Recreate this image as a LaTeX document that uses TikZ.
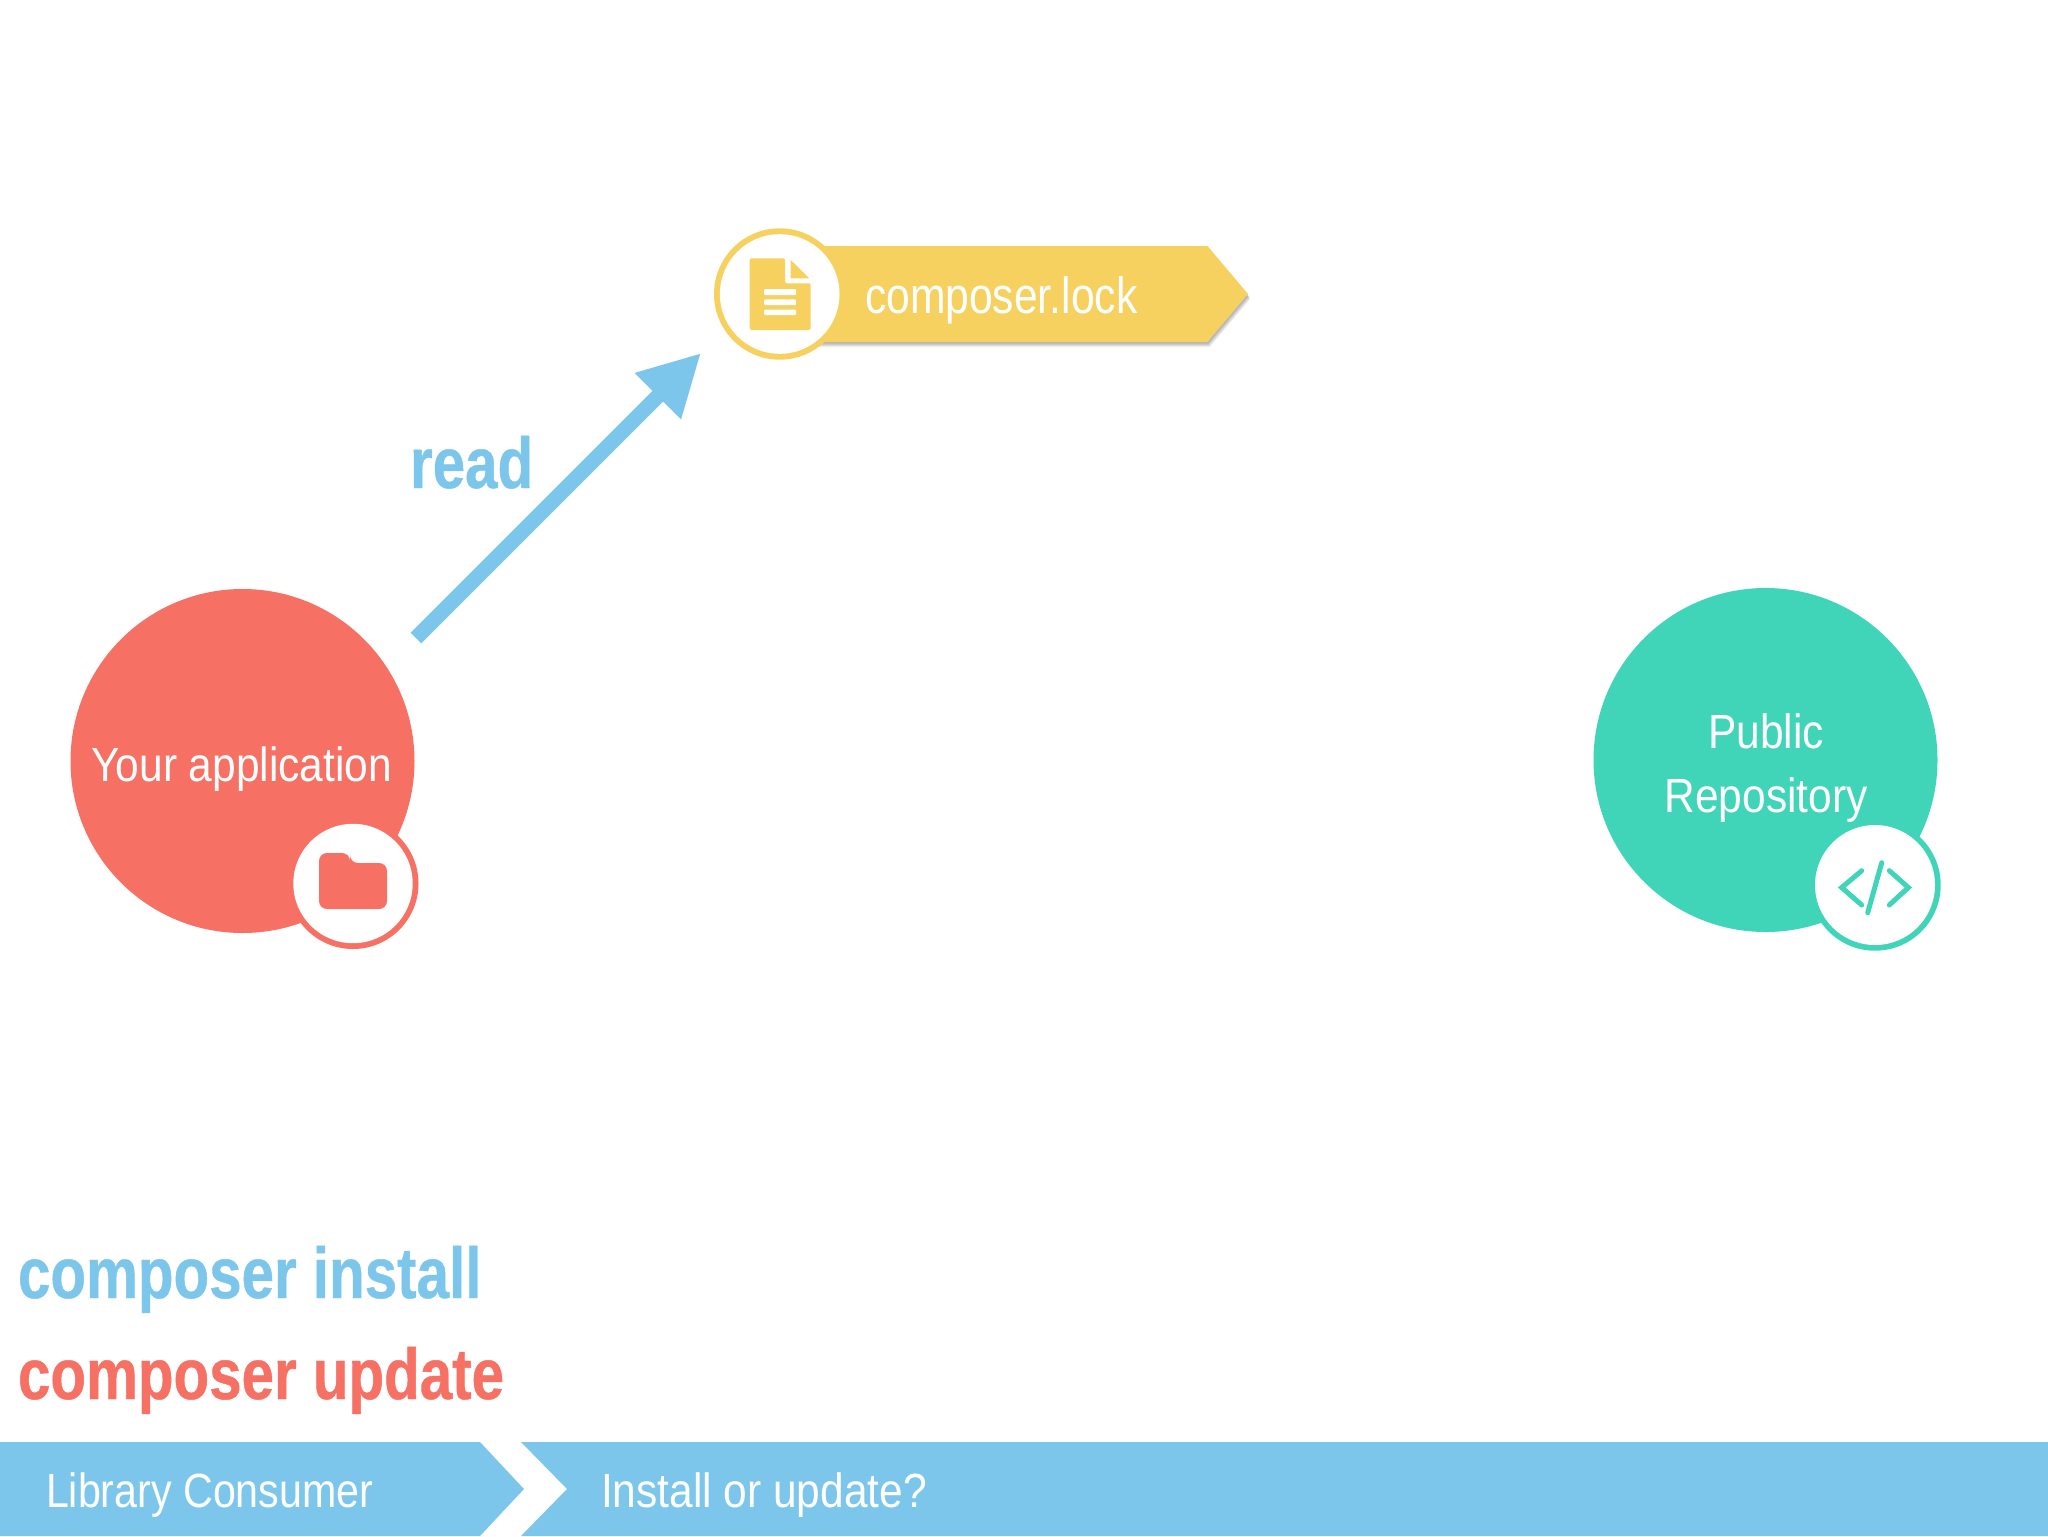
\documentclass[tikz,border=0pt]{standalone}
\usepackage{fontspec}
\usetikzlibrary{arrows.meta}
\setmainfont{Liberation Sans}
\newfontfamily\rcreg{Liberation Sans}[FakeStretch=0.885]
\newfontfamily\rclib{Liberation Sans}[FakeStretch=0.858]
\newfontfamily\rclock{Liberation Sans}[FakeStretch=0.836]
\newfontfamily\rcbold{Liberation Sans}[FakeStretch=0.81,FakeBold=0.6]
\definecolor{cred}{HTML}{F67063}
\definecolor{cblue}{HTML}{7CC6EC}
\definecolor{cyellow}{HTML}{F7D160}
\definecolor{cgreen}{HTML}{40D5B8}
\tikzset{
  disc/.style={circle,inner sep=0pt,outer sep=0pt,minimum size=#1},
  lbl/.style={anchor=base,inner sep=0pt,outer sep=0pt,text=white,font=\rcreg\fontsize{24}{28}\selectfont},
  lblw/.style={lbl,anchor=base west},
  cmd/.style={anchor=base west,inner sep=0pt,outer sep=0pt,font=\rcbold\bfseries\fontsize{36}{42}\selectfont},
  readarrow/.style={draw=cblue,line width=7.5pt,line cap=butt,-{Triangle[length=30.5pt,width=30.5pt,fill=cblue]}},
  codeline/.style={draw=cgreen,line width=2.5pt,line cap=round,line join=miter},
}
\begin{document}
\begin{tikzpicture}[x=0.5pt,y=-0.5pt]
\useasboundingbox (0,0) rectangle (2048,1536);
% bottom bar
\fill[cblue] (0,1442) -- (480,1442) -- (524,1489) -- (480,1536) -- (0,1536) -- cycle;
\fill[cblue] (521,1442) -- (2048,1442) -- (2048,1536) -- (521,1536) -- (567,1489) -- cycle;
\node[lblw,font=\rclib\fontsize{24}{28}\selectfont] (consumer) at (46,1507) {Library Consumer};
\node[lblw] (question) at (601,1507) {Install or update?};
\node[cmd,text=cblue] (install) at (18,1298) {composer install};
\node[cmd,text=cred] (update) at (18,1399) {composer update};
% application
\node[disc=172pt,fill=cred] (app) at (242.5,761) {};
\node[lbl] (apptext) at (241.7,781) {Your application};
\node[disc=65.5pt,fill=cred] (appring) at (353,883.5) {};
\node[disc=59.7pt,fill=white] (appbadge) at (353,883.5) {};
\fill[cred,rounded corners=4pt] (319,909) -- (319,853) -- (350,853) -- (350,863) -- (387,863) -- (387,909) -- cycle;
% public repository
\node[disc=172pt,fill=cgreen] (repo) at (1765.5,760) {};
\node[lbl] (repotexta) at (1766,748) {Public};
\node[lbl] (repotextb) at (1766,812) {Repository};
\node[disc=65.7pt,fill=cgreen] (repring) at (1875,885) {};
\node[disc=60pt,fill=white] (repbadge) at (1875,885) {};
\draw[codeline] (1861.7,870.7) -- (1841.7,887.5) -- (1861.7,905);
\draw[codeline] (1889.3,870.7) -- (1908.3,887.5) -- (1889.3,905);
\draw[codeline] (1881.7,862.7) -- (1867.7,912.7);
% composer.lock band
\foreach \dx/\dy in {2/5,2/4,1/3,1/2,0/1}{
  \fill[black,opacity=0.07,shift={(\dx,\dy)}] (800,246) -- (1207.5,246) -- (1248,294) -- (1207.5,342) -- (800,342) -- cycle;
}
\fill[cyellow] (800,246) -- (1207.5,246) -- (1248,294) -- (1207.5,342) -- (800,342) -- cycle;
\node[disc=65.7pt,fill=cyellow] (lockring) at (779.7,294) {};
\node[disc=59.8pt,fill=white] (lockbadge) at (779.7,294) {};
\node[lblw,font=\rclock\fontsize{25.5}{30}\selectfont] (locktext) at (865,313) {composer.lock};
% file icon
\fill[cyellow,rounded corners=1pt] (749.7,258.3) -- (785,258.3) -- (785,283.3) -- (810.7,283.3) -- (810.7,330) -- (749.7,330) -- cycle;
\fill[cyellow] (790.7,260) -- (809.3,278.3) -- (790.7,278.3) -- cycle;
\fill[white,rounded corners=0.5pt] (764,289) rectangle (796,295);
\fill[white,rounded corners=0.5pt] (764,299.3) rectangle (796,305);
\fill[white,rounded corners=0.5pt] (764,309.7) rectangle (796,315);
% read arrow
\coordinate (readstart) at (416,638);
\coordinate (readend) at (701,353);
\draw[readarrow] (readstart) -- (readend);
\node[cmd,text=cblue] (read) at (410,488) {read};
\end{tikzpicture}
\end{document}
